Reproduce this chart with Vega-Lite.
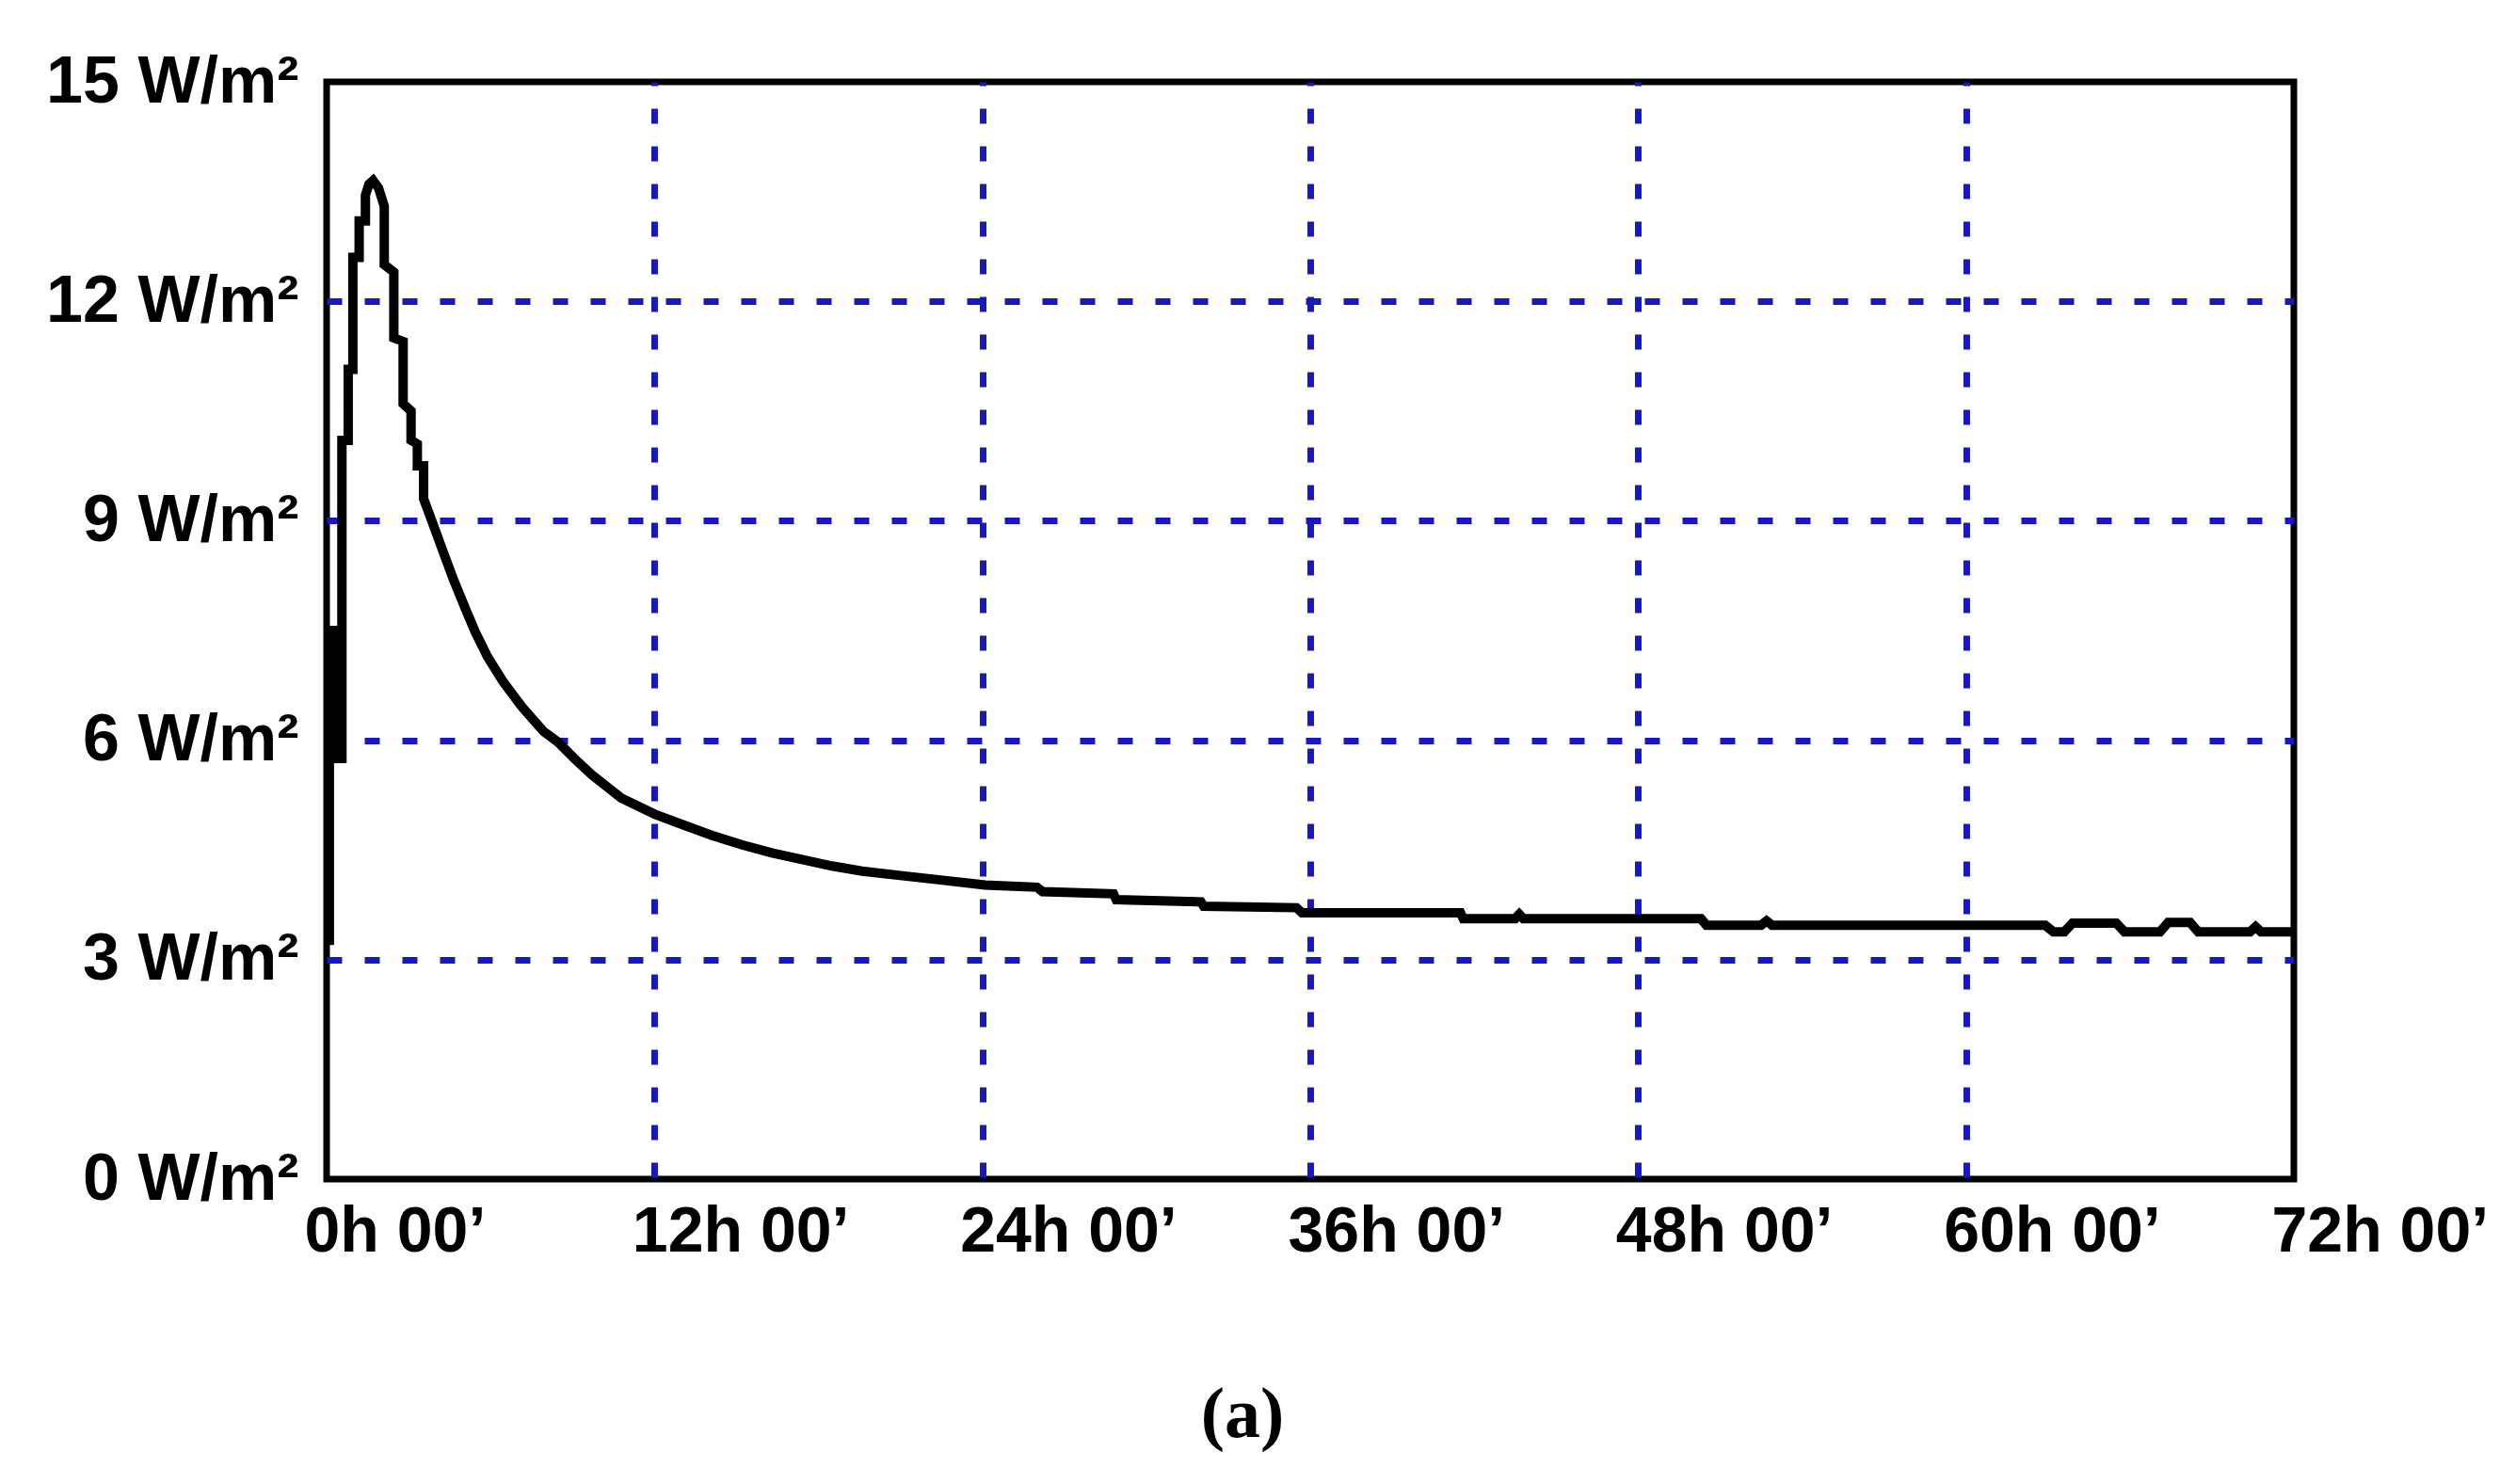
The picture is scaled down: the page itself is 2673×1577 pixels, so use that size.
{
  "$schema": "https://vega.github.io/schema/vega-lite/v6.json",
  "width": 2090,
  "height": 1166,
  "autosize": {"type": "none"},
  "padding": {"left": 347, "top": 87, "right": 236, "bottom": 324},
  "background": "white",
  "title": {
    "text": "(a)",
    "orient": "bottom",
    "anchor": "middle",
    "dx": -72,
    "offset": 124,
    "font": "Liberation Serif",
    "fontSize": 76,
    "fontWeight": "bold",
    "color": "black"
  },
  "data": {
    "values": [
      {"t": 0.10, "flux": 3.2},
      {"t": 0.10, "flux": 7.5},
      {"t": 0.28, "flux": 7.5},
      {"t": 0.28, "flux": 5.75},
      {"t": 0.56, "flux": 5.75},
      {"t": 0.56, "flux": 10.1},
      {"t": 0.79, "flux": 10.1},
      {"t": 0.79, "flux": 11.07},
      {"t": 0.96, "flux": 11.07},
      {"t": 0.96, "flux": 12.6},
      {"t": 1.19, "flux": 12.6},
      {"t": 1.19, "flux": 13.1},
      {"t": 1.42, "flux": 13.1},
      {"t": 1.42, "flux": 13.45},
      {"t": 1.55, "flux": 13.6},
      {"t": 1.70, "flux": 13.65},
      {"t": 1.90, "flux": 13.55},
      {"t": 2.11, "flux": 13.3},
      {"t": 2.11, "flux": 12.5},
      {"t": 2.46, "flux": 12.4},
      {"t": 2.46, "flux": 11.5},
      {"t": 2.80, "flux": 11.45},
      {"t": 2.80, "flux": 10.6},
      {"t": 3.09, "flux": 10.5},
      {"t": 3.09, "flux": 10.1},
      {"t": 3.32, "flux": 10.05},
      {"t": 3.32, "flux": 9.75},
      {"t": 3.55, "flux": 9.75},
      {"t": 3.55, "flux": 9.3},
      {"t": 3.85, "flux": 9.0},
      {"t": 4.30, "flux": 8.54},
      {"t": 4.64, "flux": 8.2},
      {"t": 5.10, "flux": 7.78},
      {"t": 5.44, "flux": 7.48},
      {"t": 5.89, "flux": 7.14},
      {"t": 6.46, "flux": 6.8},
      {"t": 7.14, "flux": 6.46},
      {"t": 7.94, "flux": 6.12},
      {"t": 8.45, "flux": 5.98},
      {"t": 9.07, "flux": 5.75},
      {"t": 9.70, "flux": 5.53},
      {"t": 10.78, "flux": 5.21},
      {"t": 12.0, "flux": 4.99},
      {"t": 13.0, "flux": 4.85},
      {"t": 14.1, "flux": 4.7},
      {"t": 15.2, "flux": 4.57},
      {"t": 16.3, "flux": 4.46},
      {"t": 17.4, "flux": 4.37},
      {"t": 18.5, "flux": 4.28},
      {"t": 19.6, "flux": 4.21},
      {"t": 21.0, "flux": 4.15},
      {"t": 22.7, "flux": 4.08},
      {"t": 24.1, "flux": 4.02},
      {"t": 26.0, "flux": 3.99},
      {"t": 26.2, "flux": 3.93},
      {"t": 28.8, "flux": 3.9},
      {"t": 28.9, "flux": 3.82},
      {"t": 32.0, "flux": 3.79},
      {"t": 32.1, "flux": 3.73},
      {"t": 35.5, "flux": 3.71},
      {"t": 35.7, "flux": 3.64},
      {"t": 41.5, "flux": 3.64},
      {"t": 41.6, "flux": 3.56},
      {"t": 43.5, "flux": 3.56},
      {"t": 43.65, "flux": 3.62},
      {"t": 43.8, "flux": 3.56},
      {"t": 50.3, "flux": 3.56},
      {"t": 50.5, "flux": 3.47},
      {"t": 52.5, "flux": 3.47},
      {"t": 52.7, "flux": 3.53},
      {"t": 52.9, "flux": 3.47},
      {"t": 62.9, "flux": 3.47},
      {"t": 63.2, "flux": 3.38},
      {"t": 63.6, "flux": 3.38},
      {"t": 63.9, "flux": 3.5},
      {"t": 65.5, "flux": 3.5},
      {"t": 65.8, "flux": 3.38},
      {"t": 67.1, "flux": 3.38},
      {"t": 67.4, "flux": 3.51},
      {"t": 68.2, "flux": 3.51},
      {"t": 68.5, "flux": 3.38},
      {"t": 70.4, "flux": 3.38},
      {"t": 70.6, "flux": 3.45},
      {"t": 70.8, "flux": 3.38},
      {"t": 72.0, "flux": 3.38}
    ]
  },
  "mark": {"type": "line", "color": "black", "strokeWidth": 10, "strokeJoin": "miter", "clip": false},
  "encoding": {
    "x": {
      "field": "t",
      "type": "quantitative",
      "sort": null,
      "scale": {"domain": [0, 72], "nice": false, "zero": false},
      "axis": {
        "title": null,
        "values": [0, 12, 24, 36, 48, 60, 72],
        "labelExpr": "datum.value + 'h 00\u2019'",
        "labelAlign": "left",
        "labelOffset": -24,
        "labelPadding": 22,
        "labelFlush": false,
        "labelOverlap": false,
        "labelBound": false,
        "labelLimit": 0,
        "labelFontSize": 68,
        "ticks": false,
        "domain": false,
        "grid": true,
        "gridColor": "#1818c0",
        "gridWidth": 7,
        "gridDash": [16, 24],
        "gridDashOffset": 12,
        "gridOpacity": {"condition": {"test": "datum.value == 0 || datum.value == 72", "value": 0}, "value": 1}
      }
    },
    "y": {
      "field": "flux",
      "type": "quantitative",
      "scale": {"domain": [0, 15], "nice": false},
      "axis": {
        "title": null,
        "values": [0, 3, 6, 9, 12, 15],
        "labelExpr": "datum.value + ' W/m\u00b2'",
        "labelPadding": 30,
        "labelOverlap": false,
        "labelBound": false,
        "labelLimit": 0,
        "ticks": false,
        "domain": false,
        "grid": true,
        "gridColor": "#1818c0",
        "gridWidth": 7,
        "gridDash": [16, 24],
        "gridOpacity": {"condition": {"test": "datum.value == 0 || datum.value == 15", "value": 0}, "value": 1}
      }
    }
  },
  "config": {
    "view": {"stroke": "black", "strokeWidth": 7},
    "axis": {
      "labelFont": "Liberation Sans",
      "labelFontSize": 70,
      "labelFontWeight": "bold",
      "labelColor": "black"
    }
  }
}
